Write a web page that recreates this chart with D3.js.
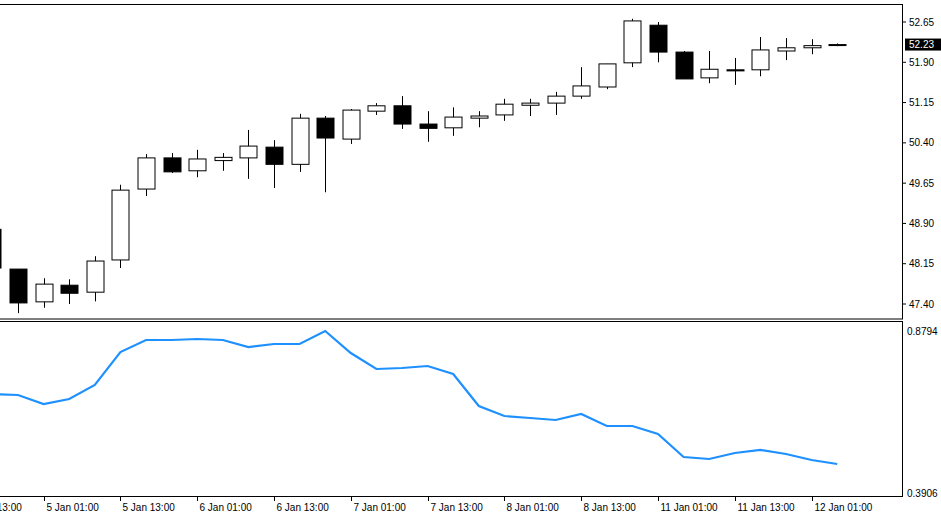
<!DOCTYPE html><html><head><meta charset="utf-8">
<script src="https://cdn.jsdelivr.net/npm/d3@7"></script>
<style>body{margin:0;background:#fff}svg{display:block;font-family:"Liberation Sans",Arial,sans-serif}</style></head><body>
<svg id="c" width="941" height="514"></svg>
<script>
const opens  = [48.79,48.05,47.44,47.75,47.62,48.22,49.54,50.12,49.88,50.07,50.12,50.32,50.00,50.86,50.47,50.99,51.09,50.75,50.68,50.86,50.92,51.10,51.14,51.27,51.44,51.89,52.59,52.09,51.61,51.76,51.76,52.11,52.17,52.23];
const highs  = [48.90,48.05,47.88,47.86,48.29,49.62,50.19,50.21,50.27,50.21,50.64,50.45,50.94,50.90,51.03,51.14,51.27,50.99,51.06,50.99,51.22,51.22,51.35,51.81,51.87,52.71,52.65,52.11,52.11,51.98,52.37,52.35,52.33,52.25];
const lows   = [48.00,47.23,47.33,47.40,47.45,48.07,49.41,49.84,49.76,49.88,49.73,49.56,49.86,49.48,50.38,50.92,50.66,50.42,50.53,50.69,50.81,50.90,50.92,51.22,51.40,51.81,51.90,51.59,51.51,51.48,51.64,51.94,52.05,52.20];
const closes = [48.07,47.42,47.77,47.60,48.20,49.52,50.12,49.86,50.10,50.13,50.34,50.00,50.86,50.49,51.01,51.09,50.75,50.67,50.88,50.90,51.12,51.14,51.27,51.46,51.87,52.67,52.09,51.59,51.77,51.74,52.13,52.17,52.21,52.23];
const indicator = [0.6893,0.6863,0.6591,0.6742,0.7165,0.8160,0.8522,0.8522,0.8553,0.8522,0.8311,0.8402,0.8402,0.8794,0.8130,0.7648,0.7678,0.7738,0.7497,0.6531,0.6229,0.6169,0.6109,0.6290,0.5928,0.5928,0.5687,0.4993,0.4932,0.5113,0.5204,0.5083,0.4902,0.4781];
const priceTicks = [52.65,51.90,51.15,50.40,49.65,48.90,48.15,47.40];
const timeLabels = ["4 Jan 13:00","5 Jan 01:00","5 Jan 13:00","6 Jan 01:00","6 Jan 13:00","7 Jan 01:00","7 Jan 13:00","8 Jan 01:00","8 Jan 13:00","11 Jan 01:00","11 Jan 13:00","12 Jan 01:00"];
const timeIdx = [-1,2,5,8,11,14,17,20,23,26,29,32];
const lastPrice = 52.23;
const indMax = 0.8794, indMin = 0.3906;

const svg = d3.select("#c");
const axX = 902;
const x = d3.scaleLinear().domain([0,33]).range([-7.6, -7.6+25.6*33]);
const y = d3.scaleLinear().domain([47.40,52.65]).range([304,22]);
const yi = d3.scaleLinear().domain([indMin,indMax]).range([493,331]);
const fs = "10px";

// frames
svg.append("rect").attr("x",-1).attr("y",4.5).attr("width",axX+1.5).attr("height",314.5).attr("fill","none").attr("stroke","#000");
svg.append("rect").attr("x",-1).attr("y",321.5).attr("width",axX+1.5).attr("height",175).attr("fill","none").attr("stroke","#000");

const clip = svg.append("clipPath").attr("id","cp").append("rect").attr("x",0).attr("y",5).attr("width",axX).attr("height",313);
const g = svg.append("g").attr("clip-path","url(#cp)");
const idx = d3.range(opens.length);
const bw = 17;
g.selectAll("line.w").data(idx).join("line")
  .attr("x1",i=>Math.round(x(i))+0.5).attr("x2",i=>Math.round(x(i))+0.5)
  .attr("y1",i=>y(highs[i])).attr("y2",i=>y(lows[i])).attr("stroke","#000");
g.selectAll("rect.b").data(idx).join("rect")
  .attr("x",i=>Math.round(x(i))-bw/2+0.5).attr("width",bw)
  .attr("y",i=>y(Math.max(opens[i],closes[i])))
  .attr("height",i=>Math.max(1,Math.abs(y(opens[i])-y(closes[i]))))
  .attr("fill",i=>closes[i]<opens[i]?"#000":"#fff").attr("stroke","#000");

// price axis
const pa = svg.append("g");
priceTicks.forEach(p=>{
  pa.append("line").attr("x1",axX).attr("x2",axX+4).attr("y1",y(p)).attr("y2",y(p)).attr("stroke","#000");
  pa.append("text").attr("x",axX+7).attr("y",y(p)+3.5).attr("font-size",fs).text(p.toFixed(2));
});
pa.append("rect").attr("x",axX+3).attr("y",y(lastPrice)-6).attr("width",36).attr("height",12).attr("fill","#000");
pa.append("text").attr("x",axX+7).attr("y",y(lastPrice)+3.5).attr("font-size",fs).attr("fill","#fff").text(lastPrice.toFixed(2));

// indicator
const gi = svg.append("g").attr("clip-path","url(#cp2)");
svg.append("clipPath").attr("id","cp2").append("rect").attr("x",0).attr("y",322).attr("width",axX).attr("height",174);
gi.append("path").datum(idx).attr("fill","none").attr("stroke","#1e90ff").attr("stroke-width",2.2)
  .attr("d",d3.line().x(i=>x(i)).y(i=>yi(indicator[i])));
[indMax,indMin].forEach(v=>{
  svg.append("text").attr("x",axX+5).attr("y",yi(v)+3.5).attr("font-size",fs).text(v.toFixed(4));
});

// time axis
timeIdx.forEach((ti,k)=>{
  const tx = Math.round(x(ti))+0.5;
  svg.append("line").attr("x1",tx).attr("x2",tx).attr("y1",497).attr("y2",501).attr("stroke","#000");
  svg.append("text").attr("x",tx+2).attr("y",511).attr("font-size",fs).text(timeLabels[k]);
});
</script></body></html>
